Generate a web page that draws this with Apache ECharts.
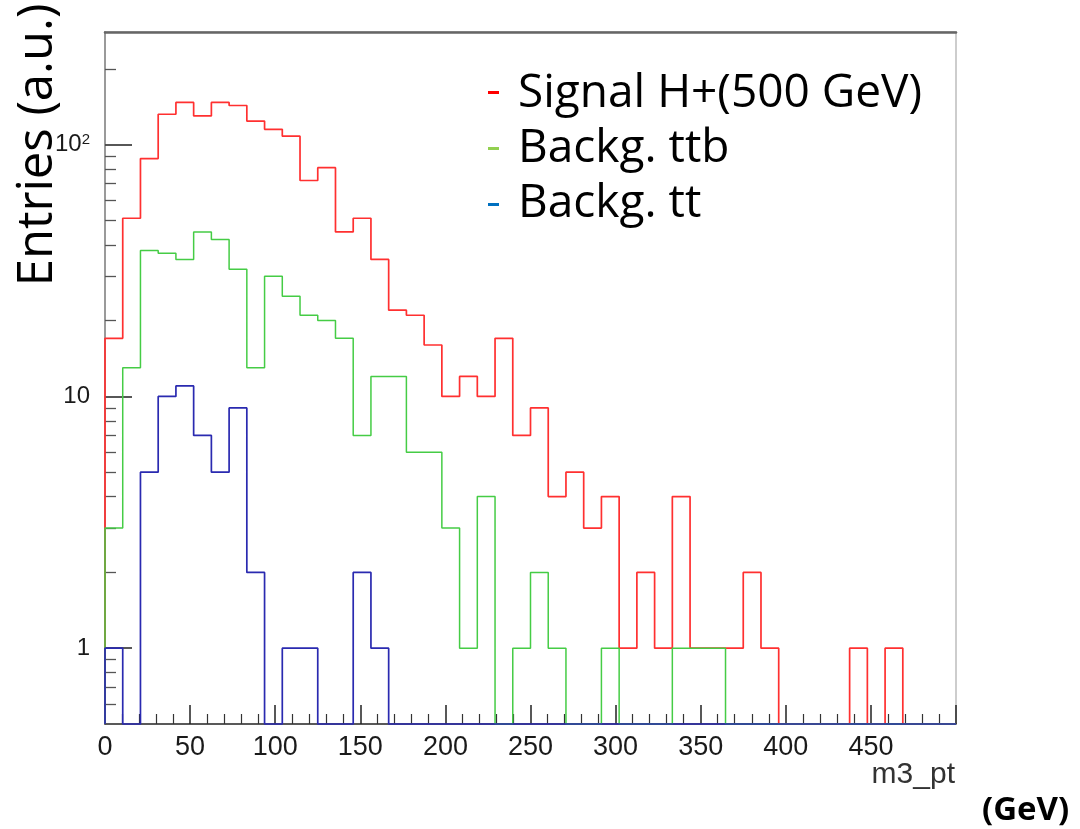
<!DOCTYPE html>
<html>
<head>
<meta charset="utf-8">
<script src="https://cdn.jsdelivr.net/npm/echarts@6/dist/echarts.min.js"></script>
<style>
  html, body { margin: 0; padding: 0; background: #fff; }
  #chart { width: 1080px; height: 829px; }
</style>
</head>
<body>
<div id="chart"></div>
<script>
// m3_pt histograms, 48 bins over 0..500 GeV
const xMax = 500;
const signalH500 = [17, 51, 88, 132, 147, 130, 147, 143, 124, 115, 108, 72, 81, 45, 51, 35,
  22, 21, 16, 10, 12, 10, 17, 7, 9, 4, 5, 3, 4, 1, 2, 1,
  4, 1, 1, 1, 2, 1, 0, 0, 0, 0, 1, 0, 1, 0, 0, 0];
const backgTtb = [3, 13, 38, 37, 35, 45, 42, 32, 13, 30, 25, 21, 20, 17, 7, 12,
  12, 6, 6, 3, 1, 4, 0, 1, 2, 1, 0, 0, 1, 0, 0, 0,
  1, 1, 1, 0, 0, 0, 0, 0, 0, 0, 0, 0, 0, 0, 0, 0];
const backgTt = [1, 0, 5, 10, 11, 7, 5, 9, 2, 0, 1, 1, 0, 0, 2, 1,
  0, 0, 0, 0, 0, 0, 0, 0, 0, 0, 0, 0, 0, 0, 0, 0,
  0, 0, 0, 0, 0, 0, 0, 0, 0, 0, 0, 0, 0, 0, 0, 0];

const yMin = 0.5;
const yMax = 280;
const yMajorTicks = [1, 10, 100];
const yMinorTicks = [0.6, 0.7, 0.8, 0.9, 2, 3, 4, 5, 6, 7, 8, 9,
  20, 30, 40, 50, 60, 70, 80, 90, 200];

const legendNames = ['Signal H+(500 GeV)', 'Backg. ttb', 'Backg. tt'];

// empty bins sit on the bottom of the log frame, like ROOT does
function toSteps(counts) {
  const w = xMax / counts.length;
  const pts = [[0, yMin]];
  counts.forEach((c, i) => pts.push([i * w, c > 0 ? c : yMin]));
  const last = counts[counts.length - 1];
  pts.push([xMax, last > 0 ? last : yMin]);
  return pts;
}

function histSeries(name, counts, color, width) {
  return {
    name: name,
    type: 'line',
    step: 'end',
    data: toSteps(counts),
    symbol: 'none',
    clip: false,
    lineStyle: { color: color, width: width },
    itemStyle: { color: color }
  };
}

const chart = echarts.init(document.getElementById('chart'));

const legendFont = '46px "Open Sans"';

const option = {
  animation: false,
  backgroundColor: '#fff',
  grid: {
    left: 105, right: 124, top: 32, bottom: 105,
    show: true, borderColor: '#bdbdbd', borderWidth: 1.5
  },
  xAxis: [
    {
      type: 'value',
      min: 0,
      max: xMax,
      interval: 50,
      axisLine: { lineStyle: { color: '#333', width: 1.5 } },
      axisTick: { inside: true, length: 19, lineStyle: { color: '#222', width: 1.5 } },
      minorTick: { show: true, splitNumber: 5, length: 10, lineStyle: { color: '#333', width: 1.2 } },
      axisLabel: {
        showMaxLabel: false,
        margin: 10,
        fontSize: 27,
        fontFamily: 'Liberation Sans',
        color: '#1a1a1a'
      },
      splitLine: { show: false }
    },
    {
      type: 'value',
      position: 'top',
      min: 0,
      max: xMax,
      axisLine: { lineStyle: { color: '#666', width: 2.5 } },
      axisTick: { show: false },
      axisLabel: { show: false },
      splitLine: { show: false }
    }
  ],
  yAxis: [
    {
      type: 'log',
      logBase: 10,
      min: yMin,
      max: yMax,
      axisLine: { show: true, lineStyle: { color: '#9a9a9a', width: 2 } },
      axisTick: {
        inside: true, length: 27, customValues: yMajorTicks,
        lineStyle: { color: '#444', width: 1.8 }
      },
      axisLabel: {
        customValues: yMajorTicks,
        margin: 15,
        fontSize: 24,
        fontFamily: 'Liberation Sans',
        color: '#1a1a1a',
        formatter: v => (v === 100 ? '10{s|2}' : String(v)),
        rich: { s: { fontSize: 15, verticalAlign: 'top', color: '#1a1a1a', fontFamily: 'Liberation Sans' } }
      },
      splitLine: { show: false }
    },
    {
      type: 'log',
      logBase: 10,
      min: yMin,
      max: yMax,
      position: 'left',
      axisLine: { show: false },
      axisTick: {
        inside: true, length: 11, customValues: yMinorTicks,
        lineStyle: { color: '#555', width: 1.3 }
      },
      axisLabel: { show: false },
      splitLine: { show: false }
    }
  ],
  series: [
    histSeries(legendNames[0], signalH500, '#ff3030', 1.7),
    histSeries(legendNames[1], backgTtb, '#45cc45', 1.5),
    histSeries(legendNames[2], backgTt, '#2a2ab0', 1.7)
  ],
  graphic: [
    { type: 'rect', shape: { x: 488, y: 91, width: 11, height: 3 }, style: { fill: '#ff0000' } },
    { type: 'rect', shape: { x: 488, y: 147, width: 11, height: 3 }, style: { fill: '#92d050' } },
    { type: 'rect', shape: { x: 488, y: 203, width: 11, height: 3 }, style: { fill: '#0070c0' } },
    { type: 'text', x: 518, y: 94, style: { text: legendNames[0], font: legendFont, fill: '#000', verticalAlign: 'middle' } },
    { type: 'text', x: 518, y: 149, style: { text: legendNames[1], font: legendFont, fill: '#000', verticalAlign: 'middle' } },
    { type: 'text', x: 518, y: 204, style: { text: legendNames[2], font: legendFont, fill: '#000', verticalAlign: 'middle' } },
    {
      type: 'text', x: 38, y: 145, rotation: Math.PI / 2,
      style: { text: 'Entries (a.u.)', font: '49px "Open Sans"', fill: '#000', align: 'center', verticalAlign: 'middle' }
    },
    {
      type: 'text', x: 955, y: 775,
      style: { text: 'm3_pt', font: '30px "Liberation Sans"', fill: '#333', align: 'right', verticalAlign: 'middle' }
    },
    {
      type: 'text', x: 982, y: 811,
      style: { text: '(GeV)', font: 'bold 33px "Open Sans"', fill: '#000', verticalAlign: 'middle' }
    }
  ]
};

chart.setOption(option);
</script>
</body>
</html>
